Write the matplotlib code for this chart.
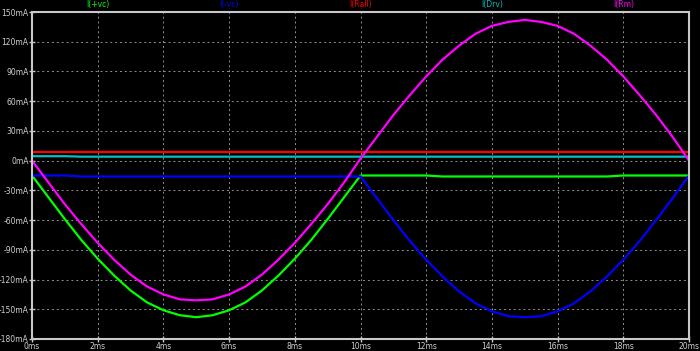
import numpy as np
from matplotlib import pyplot as plt

# time axis, ms (sampled every 0.5 ms)
t_ms = [i * 0.5 for i in range(41)]

# I(Rm) - magenta
i_rm = [0, -22, -44, -64, -83, -100, -115, -127, -135, -140, -141,
        -140, -135, -127, -115, -100, -83, -64, -44, -22,
        2, 24, 46, 66, 85, 102, 116, 128, 136, 140, 142,
        140, 136, 128, 116, 102, 85, 66, 46, 24, 0]

# I(+vc) - green
i_pvc = [-15, -37, -59, -80, -99, -116, -131, -143, -151, -156, -158,
         -156, -151, -143, -131, -116, -99, -80, -59, -37,
         -15, -15, -15, -15, -15, -16, -16, -16, -16, -16, -16,
         -16, -16, -16, -16, -16, -15, -15, -15, -15, -15]

# I(-vc) - blue
i_nvc = [-15, -15, -15, -16, -16, -16, -16, -16, -16, -16, -16,
         -16, -16, -16, -16, -16, -16, -16, -16, -16,
         -16, -38, -60, -81, -100, -117, -132, -144, -152, -157, -158,
         -157, -152, -144, -132, -117, -100, -81, -60, -38, -15]

# I(Rall) - red, I(Drv) - cyan
i_rall = [9] * 41
i_drv = [4.5, 4.5, 4.5, 4, 4, 4, 4, 4, 4, 4, 4,
         4, 4, 4, 4, 4, 4, 4, 4, 4,
         4, 4, 4, 4, 4, 4, 4, 4, 4, 4, 4,
         4, 4, 4, 4, 4, 4, 4, 4, 4, 4]

series = [
    ('I(+vc)', i_pvc, '#00ff00', 2),
    ('I(-vc)', i_nvc, '#0000ff', 6),
    ('I(Rall)', i_rall, '#ff0000', 10),
    ('I(Drv)', i_drv, '#00c0c0', 14),
    ('I(Rm)', i_rm, '#ff00ff', 18),
]

fig = plt.figure(figsize=(7.0, 3.51), dpi=100, facecolor='black')
ax = fig.add_axes([32 / 700, 1 - 339 / 351, 657 / 700, 327 / 351])
ax.set_facecolor('black')

for name, vals, col, lx in series:
    ax.plot(t_ms, vals, color=col, lw=1.6)
    ax.text(lx, 153, name, color=col, fontsize=5.5, ha='center', va='bottom')

ax.set_xlim(0, 20)
ax.set_ylim(-180, 150)
ax.set_xticks(np.arange(0, 21, 2))
ax.set_xticklabels(['%dms' % v for v in range(0, 21, 2)])
ax.set_yticks(np.arange(-180, 151, 30))
ax.set_yticklabels(['%dmA' % v for v in range(-180, 151, 30)])
ax.grid(True, color='#909090', linestyle=(0, (2, 3)), lw=0.7)
for s in ax.spines.values():
    s.set_color('#c8c8c8')
    s.set_linewidth(1.5)
ax.tick_params(colors='#c8c8c8', labelcolor='#d0d0d0', labelsize=5.5,
               length=4, width=1, direction='inout')
ax.tick_params(axis='x', pad=0)
ax.tick_params(axis='y', pad=0.5)

fig.savefig('out.png', facecolor='black')
